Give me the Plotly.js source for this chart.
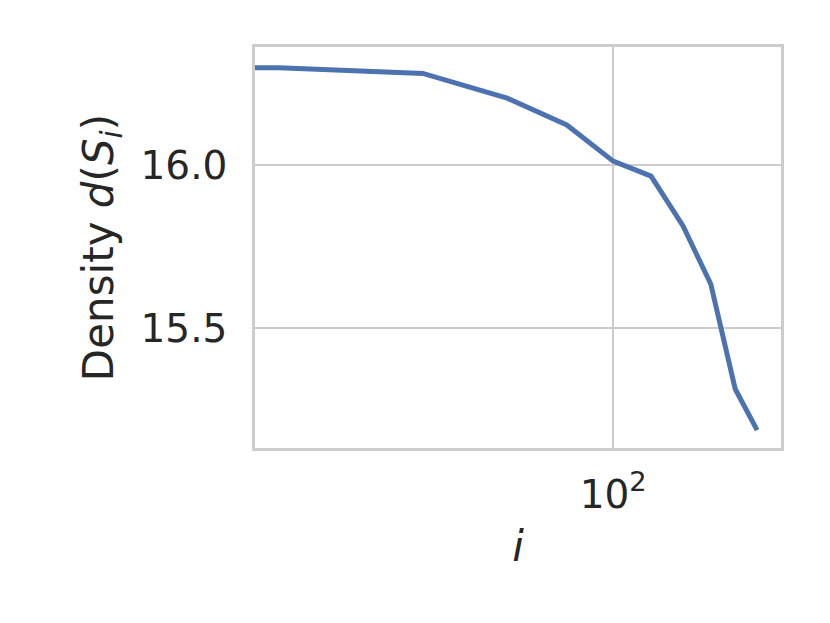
<!DOCTYPE html>
<html>
<head>
<meta charset="utf-8">
<script src="https://cdn.plot.ly/plotly-3.0.1.min.js"></script>
<style>
  body { margin: 0; background: #fff; }
  #myPlot { width: 830px; height: 623px; }
</style>
</head>
<body>
<div id="myPlot"></div>
<script>
// i values (x = 0 is clipped on the log axis, like matplotlib does)
var iValues = [0, 20, 40, 60, 80, 100, 120, 140, 160, 180, 200];
var density = [16.302, 16.298, 16.281, 16.205, 16.123, 16.012, 15.966, 15.813, 15.635, 15.313, 15.187];

var xTickVals = [100];
var xTickText = ["10<sup>2</sup>"];
var yTickVals = [15.5, 16.0];
var yTickText = ["15.5", "16.0"];

function drawChart() {
    // nonpositive values clipped to a tiny positive number
    var xPlot = iValues.map(v => v > 0 ? v : 1e-3);

    var data = [{
        x: xPlot,
        y: density,
        mode: "lines",
        line: { color: "#4c72b0", width: 5 },
        showlegend: false
    }];

    var layout = {
        width: 830,
        height: 623,
        paper_bgcolor: "#ffffff",
        plot_bgcolor: "#ffffff",
        margin: { l: 255, r: 49, t: 47, b: 175 },
        font: { family: "DejaVu Sans", color: "#262626", size: 39 },
        xaxis: {
            type: "log",
            range: [1.251, 2.351],
            tickvals: xTickVals,
            ticktext: xTickText,
            showgrid: true,
            gridcolor: "#cccccc",
            gridwidth: 2.2,
            showline: true,
            mirror: true,
            linecolor: "#cccccc",
            linewidth: 2.8,
            zeroline: false,
            ticks: "",
            ticklabelstandoff: 10,
            tickfont: { size: 39 },
            title: { text: "<i>i</i>", font: { size: 42 }, standoff: 16 }
        },
        yaxis: {
            range: [15.132, 16.362],
            tickvals: yTickVals,
            ticktext: yTickText,
            showgrid: true,
            gridcolor: "#cccccc",
            gridwidth: 2.2,
            showline: true,
            mirror: true,
            linecolor: "#cccccc",
            linewidth: 2.8,
            zeroline: false,
            ticks: "",
            ticklabelstandoff: 17,
            tickfont: { size: 39 },
            title: { text: "Density <i>d</i>(<i>S<sub>i</sub></i>)", font: { size: 42 }, standoff: 14 }
        }
    };

    Plotly.newPlot("myPlot", data, layout, { staticPlot: true });
}

drawChart();
</script>
</body>
</html>
